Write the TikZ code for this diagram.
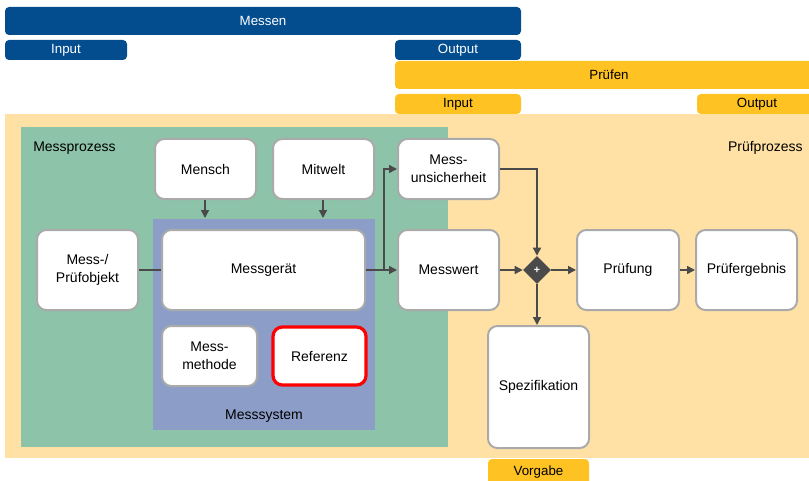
\documentclass[tikz,border=0pt]{standalone}
\usepackage{fontspec}
\setmainfont{Liberation Sans}
\usetikzlibrary{shapes.geometric,arrows.meta}
\definecolor{mblue}{HTML}{034D8F}
\definecolor{myellow}{HTML}{FEC322}
\definecolor{mlight}{HTML}{FFE1A6}
\definecolor{mgreen}{HTML}{8CC3A9}
\definecolor{msys}{HTML}{8C9DC8}
\definecolor{mgray}{HTML}{AAAAAA}
\definecolor{marrow}{HTML}{4A4A4A}
\tikzset{
  sz/.style 2 args={minimum width=#1*0.75pt, minimum height=#2*0.75pt},
  bluebar/.style={fill=mblue, rounded corners=3pt, inner sep=0pt, text=white, font=\fontsize{10}{11}\selectfont},
  yellowbar/.style={fill=myellow, rounded corners=3pt, inner sep=0pt, text=black, font=\fontsize{10}{11}\selectfont},
  procbox/.style={draw=mgray, line width=1.5pt, fill=white, rounded corners=7pt, inner sep=0pt, align=center, font=\fontsize{10.5}{13.5}\selectfont},
  refbox/.style={procbox, draw=red, line width=2.4pt},
  lbl/.style={font=\fontsize{10.5}{12}\selectfont, inner sep=0pt},
  conn/.style={draw=marrow, line width=1.1pt},
  arr/.style={conn, -{Triangle[length=6pt,width=6pt]}},
}
\begin{document}
\begin{tikzpicture}[x=0.75pt,y=-0.75pt]
\useasboundingbox (0,0) rectangle (809,481);
% bars
\node[bluebar, sz={516}{28}] at (263,21) (messen) {Messen};
\node[bluebar, sz={122}{20}] at (66,50) (min) {Input};
\node[bluebar, sz={126}{20}] at (458,50) (mout) {Output};
\node[yellowbar, sz={428}{28}] at (609,75) (pruefen) {Prüfen};
\node[yellowbar, sz={126}{20}] at (458,104) (pin) {Input};
\node[yellowbar, sz={120}{20}] at (757,104) (pout) {Output};
% backgrounds
\fill[mlight] (5,114) rectangle (809,458);
\fill[mgreen] (21,127) rectangle (448,447);
\fill[msys] (153,219) rectangle (375,430);
\node[lbl, anchor=west] at (33,148) (mp) {Messprozess};
\node[lbl, anchor=east] at (803,148) (pp) {Prüfprozess};
\node[lbl] at (264,416) (ms) {Messsystem};
% boxes
\node[procbox, sz={101}{60}] at (205.5,169) (mensch) {Mensch};
\node[procbox, sz={101}{60}] at (323.5,169) (mitwelt) {Mitwelt};
\node[procbox, sz={101}{80}] at (87.5,270) (objekt) {Mess-/\\Prüfobjekt};
\node[procbox, sz={203}{80}] at (263.5,270) (geraet) {Messgerät};
\node[procbox, sz={95}{60}] at (209.5,356) (methode) {Mess-\\methode};
\node[refbox, sz={93}{58}] at (319.5,356) (referenz) {Referenz};
\node[procbox, sz={101}{60}] at (448.5,169) (unsich) {Mess-\\unsicherheit};
\node[procbox, sz={101}{80}] at (448.5,270) (messwert) {Messwert};
\node[procbox, sz={102}{80}] at (628,270) (pruefung) {Prüfung};
\node[procbox, sz={101}{80}] at (746.5,270) (ergebnis) {Prüfergebnis};
\node[procbox, sz={101}{122}] at (538.5,387) (spez) {Spezifikation};
\node[yellowbar, sz={101}{30}] at (538.5,474) (vorgabe) {};
\node[lbl, font=\fontsize{10}{11}\selectfont] at (538.5,472) (vorgabelbl) {Vorgabe};
% diamond
\node[diamond, fill=marrow, sz={28}{28}, inner sep=0pt, text=white, font=\bfseries\fontsize{8}{8}\selectfont] (plus) at (537,270) {+};
% connectors
\coordinate (msTop1) at (205,218);
\coordinate (msTop2) at (323,218);
\draw[arr] (mensch.south -| msTop1) -- (msTop1);
\draw[arr] (mitwelt.south -| msTop2) -- (msTop2);
\draw[conn] (objekt.east) -- (geraet.west);
\draw[arr] (geraet.east) -- (messwert.west);
\coordinate (branch) at (384,270);
\draw[arr] (branch) |- (unsich.west);
\draw[arr] (unsich.east) -| (plus.north);
\draw[arr] (messwert.east) -- (plus.west);
\draw[arr] (plus.east) -- (pruefung.west);
\draw[arr] (plus.south) -- (spez.north -| plus.south);
\draw[arr] (pruefung.east) -- (ergebnis.west);
\end{tikzpicture}
\end{document}
